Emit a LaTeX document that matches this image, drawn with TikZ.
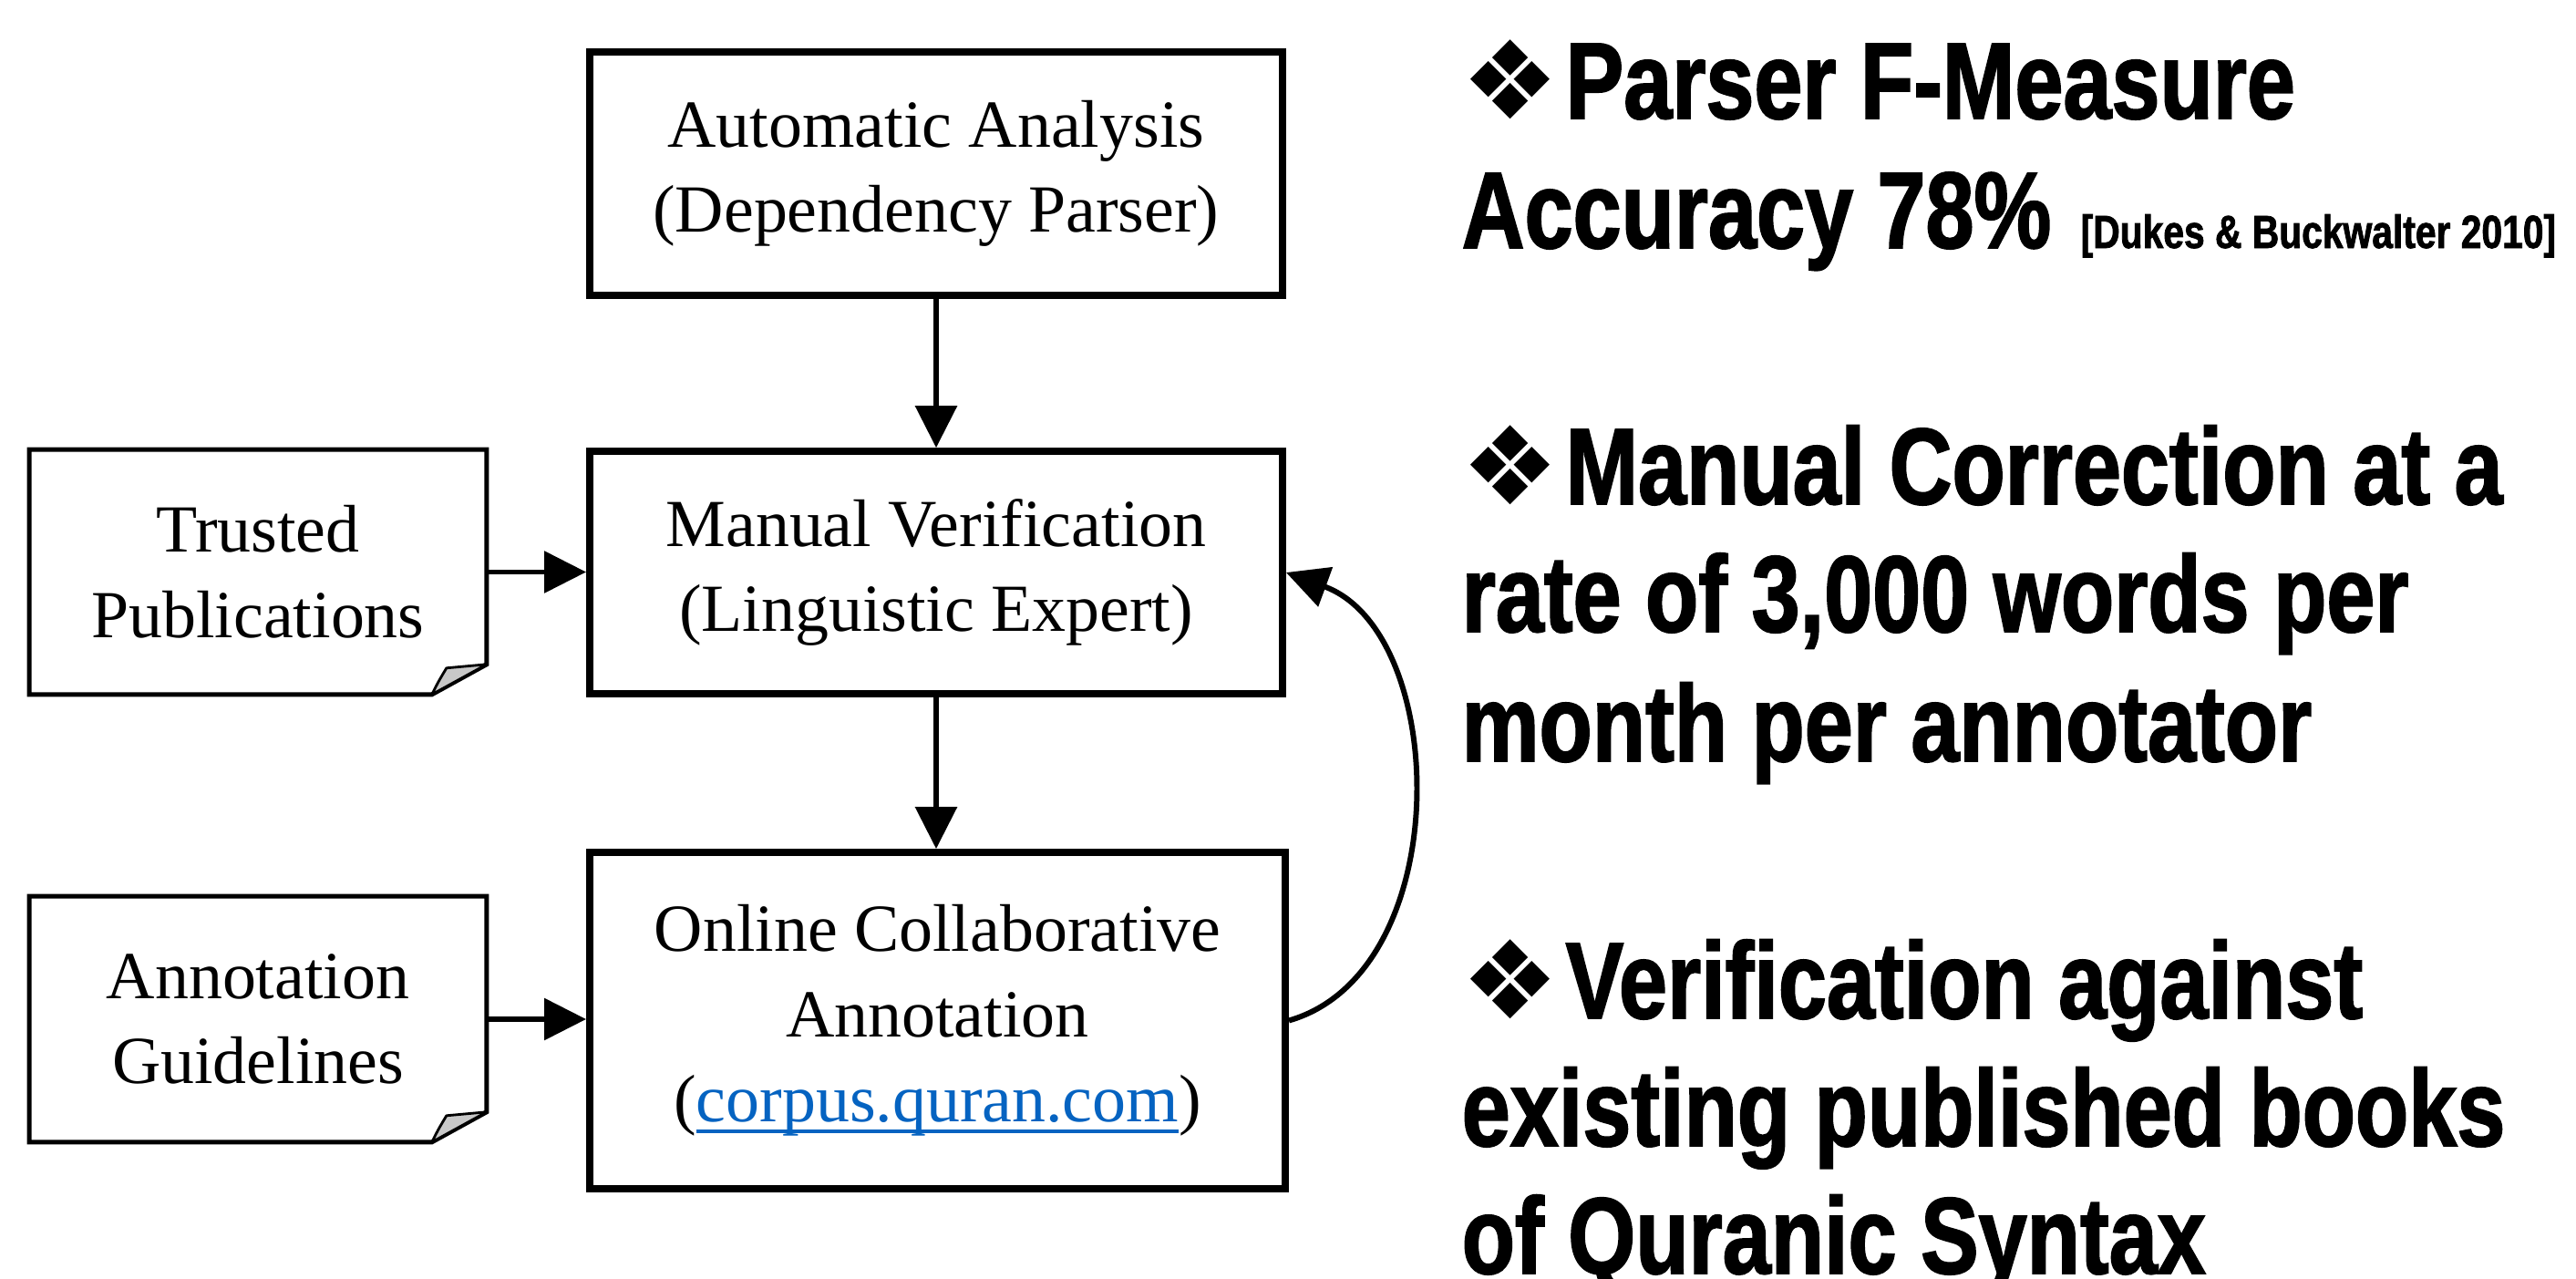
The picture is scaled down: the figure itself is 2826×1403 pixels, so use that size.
\documentclass[tikz,border=0pt]{standalone}
\usepackage{fontspec}
\setmainfont{Liberation Serif}
\newfontfamily\narrowbold[FakeStretch=0.8,FakeBold=1.5]{Liberation Sans}
\newfontfamily\symfont{DejaVu Sans}
\usetikzlibrary{arrows.meta,calc}
\definecolor{linkblue}{RGB}{5,99,193}
\definecolor{foldgray}{RGB}{200,200,200}
\newcommand{\linkul}[1]{\setbox0=\hbox{#1}\leavevmode\rlap{\color{linkblue}\rule[-3.4pt]{\wd0}{1.1pt}}\box0}
\newcommand{\bul}{{\symfont\mdseries ❖}\kern2pt}
\begin{document}
\begin{tikzpicture}[x=0.01cm,y=-0.01cm,
  serif/.style={font=\fontsize{21}{26.6}\selectfont, align=center},
  procbox/.style={serif, draw, line width=2.13pt, inner sep=0pt, minimum width=7.6cm},
  notebox/.style={serif, inner sep=0pt, minimum width=5cm},
  noteline/.style={line width=1.42pt, line join=miter},
  foldline/.style={fill=foldgray, draw, line width=0.8pt, line join=round},
  arr/.style={line width=1.7pt, -{Triangle[length=0.46cm,width=0.45cm]}},
  big/.style={font=\narrowbold\bfseries\fontsize{33.9}{40}\selectfont, anchor=base west, inner sep=0pt},
  cite/.style={font=\narrowbold\bfseries\fontsize{14.5}{17}\selectfont, anchor=base west, inner sep=0pt}
]
\fill[white] (0,0) rectangle (2826,1403);
\useasboundingbox (0,0) rectangle (2826,1403);

% process boxes
\node[procbox, minimum height=2.67cm] (auto) at (1027,190.5) {Automatic Analysis\\(Dependency Parser)};
\node[procbox, minimum height=2.66cm] (manual) at (1027,628) {Manual Verification\\(Linguistic Expert)};
\node[procbox, minimum height=3.69cm, minimum width=7.63cm] (online) at (1028.5,1119.5)
  {Online Collaborative\\Annotation\\(\textcolor{linkblue}{\linkul{corpus.quran.com}})};

% note boxes
\node[notebox, minimum height=2.67cm] (trusted) at (283,627.5) {Trusted\\Publications};
\node[notebox, minimum height=2.68cm] (guide) at (283,1118) {Annotation\\Guidelines};
\foreach \n in {trusted,guide} {
  \draw[noteline] (\n.north west) -- (\n.north east) -- ($(\n.south east)+(0,-33)$)
     -- ($(\n.south east)+(-60,0)$) -- (\n.south west) -- cycle;
  \draw[foldline] ($(\n.south east)+(-60,0)$) .. controls ($(\n.south east)+(-53,-14)$) .. ($(\n.south east)+(-44,-29)$)
     .. controls ($(\n.south east)+(-22,-31)$) .. ($(\n.south east)+(0,-33)$) -- cycle;
}

% connectors
\draw[arr] (auto.south) -- (manual.north);
\draw[arr] (manual.south) -- (manual.south |- online.north);
\draw[arr] (trusted.east) -- (trusted.east -| manual.west);
\draw[arr] (guide.east) -- (guide.east -| online.west);
\draw[arr] (online.east) .. controls +(184,-53) and +(180,66) .. (manual.east);

% right-hand text
\node[big] (l1) at (1603,130) {\bul Parser F-Measure};
\node[big] (l2) at (1603,272) {Accuracy 78\%};
\node[cite] (cit) at (2282,272) {[Dukes \& Buckwalter 2010]};
\node[big] (l3) at (1603,553) {\bul Manual Correction at a};
\node[big] (l4) at (1603,693) {rate of 3,000 words per};
\node[big] (l5) at (1603,835) {month per annotator};
\node[big] (l6) at (1603,1117) {\bul Verification against};
\node[big] (l7) at (1603,1257) {existing published books};
\node[big] (l8) at (1603,1397) {of Quranic Syntax};
\end{tikzpicture}
\end{document}
